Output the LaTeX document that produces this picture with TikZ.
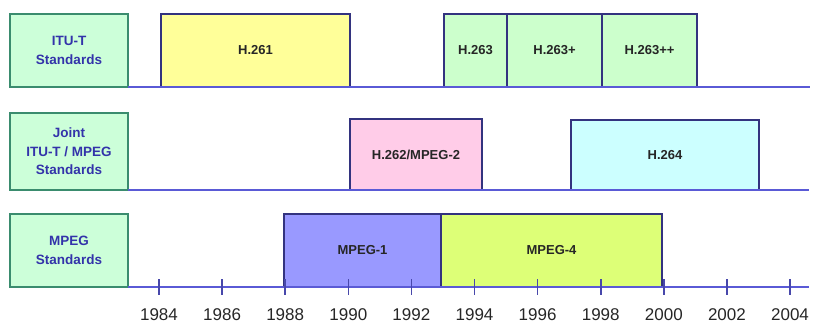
\documentclass[tikz,border=0pt]{standalone}
\usepackage{fontspec}
\setmainfont{Liberation Sans}
\usepackage{xcolor}
\usetikzlibrary{positioning}

\definecolor{labfill}{HTML}{CCFFD9}
\definecolor{labdraw}{HTML}{3A8C6E}
\definecolor{labtext}{HTML}{3333AA}
\definecolor{eradraw}{HTML}{33337F}
\definecolor{axisblue}{HTML}{5A5AD6}
\definecolor{h261fill}{HTML}{FFFF99}
\definecolor{h263fill}{HTML}{CCFFCC}
\definecolor{h262fill}{HTML}{FFCCE8}
\definecolor{h264fill}{HTML}{CCFFFF}
\definecolor{mpeg1fill}{HTML}{9999FF}
\definecolor{mpeg4fill}{HTML}{DDFF77}

\begin{document}
\begin{tikzpicture}[x=1pt, y=-1pt,
  font=\bfseries\fontsize{13}{18}\selectfont,
  std/.style={draw=labdraw, line width=1.8pt, fill=labfill, text=labtext, align=center,
    minimum width=118pt, anchor=south west, inner sep=0pt, outer sep=0pt,
    font=\bfseries\fontsize{13.5}{18.5}\selectfont},
  era/.style={draw=eradraw, line width=1.1pt, anchor=south west, inner sep=0pt, outer sep=0pt, text=black!85},
  axis/.style={draw=axisblue, line width=1.6pt},
  tick/.style={draw=axisblue!80!black, line width=1.6pt},
  year/.style={font=\fontsize{17}{17}\selectfont, text=black!85}]
  \useasboundingbox (0,0) rectangle (818,325);

  % row 1: ITU-T
  \node[std, minimum height=73pt] (itu) at (10,87) {ITU-T\\Standards};
  \node[era, fill=h261fill, minimum width=189pt, minimum height=73pt] (h261) at (161,87) {H.261};
  \node[era, fill=h263fill, minimum width=63pt, minimum height=73pt] (h263) at (444,87) {H.263};
  \node[era, fill=h263fill, minimum width=95pt, minimum height=73pt, right=0pt of h263] (h263p) {H.263+};
  \node[era, fill=h263fill, minimum width=95pt, minimum height=73pt, right=0pt of h263p] (h263pp) {H.263++};
  \coordinate (end1) at (810,87);
  \draw[axis] (itu.south east) -- (end1);

  % row 2: joint
  \node[std, minimum height=77pt] (joint) at (10,190) {Joint\\ITU-T / MPEG\\Standards};
  \node[era, fill=h262fill, minimum width=132pt, minimum height=71pt] (h262) at (350,190) {H.262/MPEG-2};
  \node[era, fill=h264fill, minimum width=188pt, minimum height=70pt] (h264) at (571,190) {H.264};
  \coordinate (end2) at (809,190);
  \draw[axis] (joint.south east) -- (end2);

  % row 3: MPEG
  \node[std, minimum height=73pt] (mpeg) at (10,287) {MPEG\\Standards};
  \node[era, fill=mpeg1fill, minimum width=157pt, minimum height=73pt] (mpeg1) at (284,287) {MPEG-1};
  \node[era, fill=mpeg4fill, minimum width=221pt, minimum height=73pt, right=0pt of mpeg1] (mpeg4) {MPEG-4};
  \coordinate (end3) at (809,287);
  \draw[axis] (mpeg.south east) -- (end3);

  % time scale
  \foreach \k in {0,...,10} {
    \pgfmathtruncatemacro{\yr}{1984+2*\k}
    \draw[tick] (159+63.1*\k,279) -- ++(0,16);
    \node[year] (y\yr) at (159+63.1*\k,315) {\yr};
  }
\end{tikzpicture}
\end{document}
